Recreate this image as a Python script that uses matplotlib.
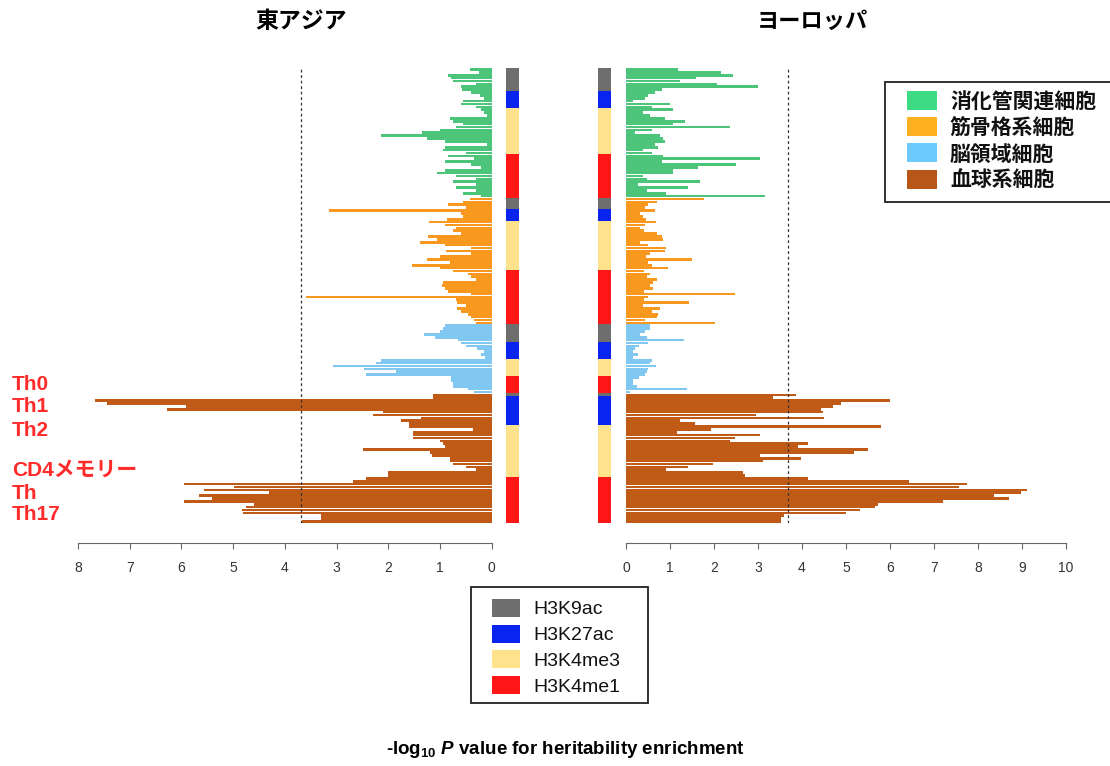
import matplotlib
matplotlib.use("Agg")
import matplotlib.pyplot as plt
from matplotlib.patches import Rectangle
from matplotlib import font_manager
import numpy as np

plt.rcParams['font.family'] = ['Liberation Sans', 'Noto Sans CJK JP']
plt.rcParams['mathtext.fontset'] = 'custom'
plt.rcParams['mathtext.rm'] = 'Liberation Sans:bold'
plt.rcParams['mathtext.it'] = 'Liberation Sans:italic:bold'

_names = {f.name for f in font_manager.fontManager.ttflist}
label_family = (['Liberation Sans Narrow', 'Noto Sans CJK JP']
                if 'Liberation Sans Narrow' in _names else ['Liberation Sans', 'Noto Sans CJK JP'])

# ---------------- data ----------------
tissues = ['消化管関連細胞', '筋骨格系細胞', '脳領域細胞', '血球系細胞']
tissue_colors = ['#4cc47a', '#f8981f', '#80c8f2', '#c05b17']
legend_tissue_colors = ['#3ddc84', '#ffb020', '#6dcaff', '#b8561a']

marks = ['H3K9ac', 'H3K27ac', 'H3K4me3', 'H3K4me1']
mark_colors = ['#6e6e6e', '#0a24f0', '#ffe28c', '#ff1616']
# number of rows per mark within each tissue group (top to bottom)
green_marks = [8, 6, 16, 15]
orange_marks = [4, 4, 17, 19]
blue_marks = [6, 6, 6, 6]
brown_marks = [1, 10, 18, 16]

# East Asia -log10 P (top to bottom)
ea_green = [0.41, 0.25, 0.85, 0.78, 0.75, 0.30, 0.60, 0.58, 0.40, 0.22,
            0.15, 0.55, 0.60, 0.30, 0.20, 0.15, 0.10, 0.80, 0.75, 0.55,
            0.70, 1.00, 1.35, 2.14, 1.25, 0.90, 0.10, 0.90, 0.95, 0.50,
            0.85, 0.35, 0.90, 0.40, 0.20, 0.90, 1.05, 0.70, 0.30, 0.75,
            0.30, 0.70, 0.30, 0.55, 0.20]
ea_orange = [0.42, 0.55, 0.84, 0.50, 3.15, 0.60, 0.55, 0.87, 1.21, 0.90,
             0.70, 0.75, 0.60, 1.23, 1.05, 1.39, 0.90, 0.40, 0.88, 0.40,
             1.00, 1.26, 0.80, 1.55, 1.00, 0.74, 0.45, 0.40, 0.30, 0.95,
             0.97, 0.90, 0.85, 0.40, 3.59, 0.70, 0.68, 0.50, 0.68, 0.60,
             0.45, 0.40, 0.35, 0.30]
ea_blue = [0.90, 0.95, 1.00, 1.31, 1.10, 0.65, 0.60, 0.50, 0.29, 0.15,
           0.20, 0.13, 2.14, 2.23, 3.07, 2.46, 1.85, 2.43, 0.78, 0.78,
           0.74, 0.74, 0.45, 0.35]
ea_brown = [1.13, 1.13, 7.67, 7.44, 5.92, 6.28, 2.10, 2.30, 1.36, 1.75,
            1.59, 1.59, 0.36, 1.52, 1.52, 1.52, 1.00, 0.95, 0.90, 2.49,
            1.20, 1.15, 0.81, 0.80, 0.74, 0.49, 0.30, 2.00, 2.00, 2.43,
            2.69, 5.95, 4.98, 5.57, 4.30, 5.66, 5.40, 5.95, 4.60, 4.76,
            4.82, 4.80, 3.30, 3.30, 3.66]

# Europe -log10 P (top to bottom)
eu_green = [1.19, 2.17, 2.43, 1.60, 1.22, 2.06, 3.00, 0.81, 0.66, 0.51,
            0.43, 0.17, 1.00, 0.60, 1.07, 0.39, 0.54, 0.88, 1.34, 1.07,
            2.36, 0.60, 0.20, 0.77, 0.85, 0.88, 0.66, 0.73, 0.39, 0.60,
            0.85, 3.04, 0.81, 2.50, 1.64, 1.07, 1.07, 0.39, 0.47, 1.68,
            0.28, 1.41, 0.47, 0.90, 3.15]
eu_orange = [1.78, 0.70, 0.50, 0.43, 0.66, 0.32, 0.39, 0.45, 0.68, 0.43,
             0.32, 0.40, 0.70, 0.81, 0.85, 0.32, 0.50, 0.92, 0.88, 0.54,
             0.45, 1.49, 0.51, 0.58, 0.96, 0.40, 0.54, 0.47, 0.70, 0.62,
             0.55, 0.62, 0.40, 2.47, 0.51, 0.40, 1.44, 0.39, 0.77, 0.60,
             0.73, 0.70, 0.43, 2.02]
eu_blue = [0.55, 0.54, 0.43, 0.32, 0.47, 1.32, 0.51, 0.30, 0.20, 0.17,
           0.28, 0.17, 0.58, 0.54, 0.68, 0.50, 0.47, 0.43, 0.30, 0.17,
           0.17, 0.25, 1.38, 0.10]
eu_brown = [3.87, 3.34, 5.99, 4.89, 4.70, 4.44, 4.47, 2.96, 4.51, 1.23,
            1.56, 5.80, 1.94, 1.15, 3.04, 2.47, 2.36, 4.13, 3.90, 5.50,
            5.19, 3.04, 3.98, 3.11, 1.98, 1.41, 0.92, 2.66, 2.70, 4.13,
            6.44, 7.76, 7.57, 9.12, 8.97, 8.37, 8.71, 7.20, 5.72, 5.65,
            5.31, 5.00, 3.60, 3.53, 3.53]

threshold = 3.68
ea_ticks = [0, 1, 2, 3, 4, 5, 6, 7, 8]
eu_ticks = [0, 1, 2, 3, 4, 5, 6, 7, 8, 9, 10]
cell_labels = ['Th0', 'Th1', 'Th2', 'CD4メモリー', 'Th', 'Th17']

# ---------------- assemble ----------------
ea_vals = ea_green + ea_orange + ea_blue + ea_brown
eu_vals = eu_green + eu_orange + eu_blue + eu_brown
group_sizes = [len(ea_green), len(ea_orange), len(ea_blue), len(ea_brown)]
bar_colors = []
for c, n in zip(tissue_colors, group_sizes):
    bar_colors += [c] * n
row_marks = []
for g in [green_marks, orange_marks, blue_marks, brown_marks]:
    for mi, n in enumerate(g):
        row_marks += [mark_colors[mi]] * n
N = len(ea_vals)
idx = np.arange(N)

W, H = 1110, 766
fig = plt.figure(figsize=(W / 100, H / 100), dpi=100)

def fx(px):
    return px / W

def fy(py):
    return 1 - py / H

top, bot = 68, 523
ax_h = (bot - top) / H

axL = fig.add_axes([fx(78), fy(bot), fx(491.7 - 78), ax_h])
axR = fig.add_axes([fx(626), fy(bot), fx(1066 - 626), ax_h])
sL = fig.add_axes([fx(506), fy(bot), fx(13), ax_h])
sR = fig.add_axes([fx(598), fy(bot), fx(13), ax_h])

for ax, vals, xmax, ticks in [(axL, ea_vals, 8, ea_ticks), (axR, eu_vals, 10, eu_ticks)]:
    ax.barh(idx, vals, height=0.92, color=bar_colors, edgecolor='none')
    ax.set_ylim(N - 0.5, -0.5)
    ax.axvline(threshold, ymax=1.007, color='#333333', lw=0.9, linestyle=(0, (2.2, 2.2)))
    for s in ['top', 'right', 'left']:
        ax.spines[s].set_visible(False)
    ax.spines['bottom'].set_position(('outward', 14.5))
    ax.spines['bottom'].set_bounds(0, xmax)
    ax.spines['bottom'].set_color('#666666')
    ax.set_xticks(ticks)
    ax.tick_params(axis='x', direction='out', length=4.5, color='#666666',
                   labelsize=10, labelcolor='#333333', pad=8)
    ax.set_yticks([])
    ax.patch.set_alpha(0)

axL.set_xlim(8, 0)
axR.set_xlim(0, 10)

for s in [sL, sR]:
    s.barh(idx, [1] * N, height=1.0, color=row_marks, edgecolor='none')
    s.set_xlim(0, 1)
    s.set_ylim(N - 0.5, -0.5)
    s.axis('off')

# titles
fig.text(fx(301), fy(22), '東アジア', ha='center', va='center', fontsize=16.5, fontweight='bold')
fig.text(fx(812), fy(22), 'ヨーロッパ', ha='center', va='center', fontsize=16, fontweight='bold')

# red cell labels
for lab, py in zip(cell_labels, [383, 405, 428, 468, 491, 513]):
    fig.text(fx(12), fy(py), lab, ha='left', va='center_baseline', fontsize=15,
             fontweight='bold', color='#ff2a2a', family=label_family)

# x label
fig.text(fx(565), fy(750), r'-log$_{\mathrm{10}}$ $\mathit{P}$ value for heritability enrichment',
         ha='center', va='center', fontsize=13.5, fontweight='bold')


def draw_legend(box, patch_x, patch_w, patch_h, text_x, centers, colors, labels, fsize, weight):
    x0, y0, x1, y1 = box
    fig.patches.append(Rectangle((fx(x0), fy(y1)), fx(x1 - x0), (y1 - y0) / H,
                                 transform=fig.transFigure, facecolor='white',
                                 edgecolor='#222222', lw=1.3, zorder=5))
    for c, lab, cy in zip(colors, labels, centers):
        fig.patches.append(Rectangle((fx(patch_x), fy(cy + patch_h / 2)), fx(patch_w), patch_h / H,
                                     transform=fig.transFigure, facecolor=c,
                                     edgecolor='none', zorder=6))
        fig.text(fx(text_x), fy(cy), lab, ha='left', va='center_baseline', fontsize=fsize,
                 fontweight=weight, color='#111111', zorder=7)


# tissue legend
draw_legend((885, 82, 1115, 202), 907, 30, 19, 950, [100.5, 126.7, 152.9, 179],
            legend_tissue_colors, tissues, 15, 'bold')
# histone legend
draw_legend((471, 587, 648, 703), 492, 28, 18, 533, [608, 633.7, 659.3, 685],
            mark_colors, marks, 14, 'normal')

fig.savefig('out.png', dpi=100)
